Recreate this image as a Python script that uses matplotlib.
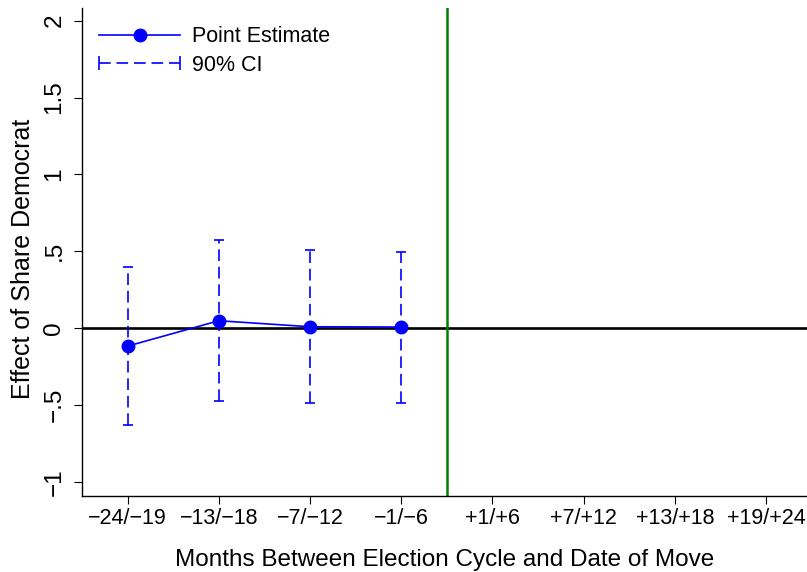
import numpy as np
import matplotlib
matplotlib.use("Agg")
import matplotlib.pyplot as plt
from matplotlib.lines import Line2D
from matplotlib.legend_handler import HandlerLine2D

plt.rcParams.update({
    "font.family": "sans-serif",
    "font.sans-serif": ["Liberation Sans", "DejaVu Sans"],
    "font.size": 17,
    "axes.linewidth": 1.0,
    "xtick.direction": "out",
    "ytick.direction": "out",
    "xtick.major.size": 6,
    "ytick.major.size": 6,
})

# categories on the x axis
periods = ["\u221224/\u221219", "\u221213/\u221218", "\u22127/\u221212", "\u22121/\u22126",
           "+1/+6", "+7/+12", "+13/+18", "+19/+24"]

# estimates only exist for the pre-move periods
estimate = [-0.117, 0.048, 0.009, 0.007]
ci_low = [-0.633, -0.473, -0.486, -0.486]
ci_high = [0.400, 0.573, 0.508, 0.493]

y_ticks = [-1, -0.5, 0, 0.5, 1, 1.5, 2]
y_ticklabels = ["\u22121", "\u2212.5", "0", ".5", "1", "1.5", "2"]

BLUE = "#0000FF"
GREEN = "#008000"
DASH = (0, (7, 3.5))

fig = plt.figure(figsize=(8.07, 5.72), dpi=100)
ax = fig.add_axes([0.1016, 0.1334, 0.8984, 0.852])

xpos = np.arange(1, len(periods) + 1)
xe = xpos[:len(estimate)]
est = np.array(estimate)

ax.axhline(0, color="black", lw=1.9, zorder=1)
ax.axvline(4.5, color=GREEN, lw=1.8, zorder=1)

eb = ax.errorbar(xe, est, yerr=[est - np.array(ci_low), np.array(ci_high) - est],
                 fmt="none", ecolor=BLUE, elinewidth=1.2, capsize=3.5, capthick=1.2, zorder=2)
eb[2][0].set_linestyle(DASH)

ax.plot(xe, est, color=BLUE, marker="o", ms=9, lw=1.2, zorder=3)

ax.set_xlim(0.5, 8.45)
ax.set_ylim(-1.09, 2.08)
ax.set_xticks(xpos)
ax.set_xticklabels(periods, fontsize=15.5)
ax.set_yticks(y_ticks)
ax.set_yticklabels(y_ticklabels, rotation=90, va="center", fontsize=17.5)
ax.tick_params(axis="x", pad=3)
ax.tick_params(axis="y", pad=6)

ax.spines["top"].set_visible(False)
ax.spines["right"].set_visible(False)

ax.set_xlabel("Months Between Election Cycle and Date of Move", fontsize=17.5, labelpad=14)
ax.set_ylabel("Effect of Share Democrat", fontsize=18, labelpad=6)
ax.yaxis.label.set_y(0.485)

h_est = Line2D([], [], color=BLUE, marker="o", ms=9, lw=1.2)
h_ci = Line2D([], [], color=BLUE, ls=DASH, marker="|", ms=10, mew=1.2, lw=1.2)
ax.legend([h_est, h_ci], ["Point Estimate", "90% CI"], loc="upper left",
          bbox_to_anchor=(-0.003, 1.003), frameon=False, fontsize=15.5, handlelength=3.75,
          handletextpad=0.55, labelspacing=0.35, borderpad=0.4,
          handler_map={h_est: HandlerLine2D(numpoints=1),
                       h_ci: HandlerLine2D(numpoints=2, marker_pad=0)})

fig.savefig("out.png", dpi=100)
